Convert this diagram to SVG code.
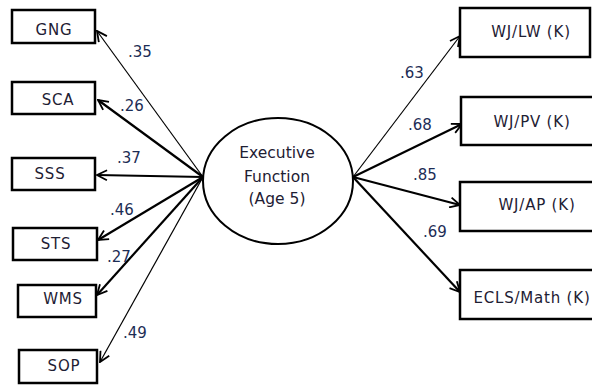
<svg xmlns="http://www.w3.org/2000/svg" width="592" height="385" viewBox="0 0 592 385">
<style>
.box{fill:#fff;stroke:#000;stroke-width:2.5}
.lbl{font-family:"DejaVu Sans",Verdana,sans-serif;font-size:15px;fill:#1e2033;text-anchor:middle;letter-spacing:0.8px}
.ctr{font-family:"DejaVu Sans",Verdana,sans-serif;font-size:15.5px;fill:#1e2033;text-anchor:middle}
.coef{font-family:"DejaVu Sans",Verdana,sans-serif;font-size:15px;fill:#1d2d55}
.thin{stroke:#000;stroke-width:1.2;fill:none;marker-end:url(#a)}
.thick{stroke:#000;stroke-width:2.2;fill:none;marker-end:url(#a)}
</style>
<defs>
<marker id="a" viewBox="0 0 12 12" refX="11" refY="6" markerWidth="12" markerHeight="12" markerUnits="userSpaceOnUse" orient="auto">
<path d="M1,1 L11,6 L1,11" fill="none" stroke="#000" stroke-width="1.8"/>
</marker>
</defs>
<rect width="592" height="385" fill="#fff"/>
<g id="connectors">
<line class="thin" x1="203" y1="177" x2="97" y2="31"/>
<line class="thick" x1="203" y1="177" x2="98" y2="100"/>
<line class="thick" x1="203" y1="177" x2="97" y2="175"/>
<line class="thick" x1="203" y1="177" x2="98" y2="240"/>
<line class="thick" x1="203" y1="177" x2="97" y2="295"/>
<line class="thin" x1="203" y1="177" x2="100" y2="362"/>
<line class="thin" x1="353" y1="177" x2="460" y2="36"/>
<line class="thick" x1="353" y1="177" x2="462" y2="124"/>
<line class="thick" x1="353" y1="177" x2="460" y2="205"/>
<line class="thick" x1="353" y1="177" x2="460" y2="292"/>
<text class="coef" x="128" y="57">.35</text>
<text class="coef" x="120" y="111">.26</text>
<text class="coef" x="117" y="163">.37</text>
<text class="coef" x="110" y="215">.46</text>
<text class="coef" x="107" y="262">.27</text>
<text class="coef" x="123" y="338">.49</text>
<text class="coef" x="400" y="78">.63</text>
<text class="coef" x="408" y="130">.68</text>
<text class="coef" x="413" y="180">.85</text>
<text class="coef" x="423" y="237">.69</text>
</g>
<g id="ef">
<ellipse cx="278" cy="181" rx="75" ry="63" fill="#fff" stroke="#000" stroke-width="2"/>
<text class="ctr" x="277" y="158">Executive</text>
<text class="ctr" x="277" y="182">Function</text>
<text class="ctr" x="277" y="204">(Age 5)</text>
</g>
<g id="gng"><rect class="box" x="12" y="10" width="83" height="33"/><text class="lbl" x="54" y="35">GNG</text></g>
<g id="sca"><rect class="box" x="12" y="82" width="83" height="32"/><text class="lbl" x="58" y="105">SCA</text></g>
<g id="sss"><rect class="box" x="12" y="158" width="83" height="32"/><text class="lbl" x="50" y="179">SSS</text></g>
<g id="sts"><rect class="box" x="13" y="228" width="84" height="32"/><text class="lbl" x="56" y="249">STS</text></g>
<g id="wms"><rect class="box" x="18" y="285" width="78" height="32"/><text class="lbl" x="63" y="304">WMS</text></g>
<g id="sop"><rect class="box" x="19" y="350" width="78" height="33"/><text class="lbl" x="64" y="371">SOP</text></g>
<g id="wjlw"><rect class="box" x="460" y="8" width="130" height="49"/><text class="lbl" x="531" y="37">WJ/LW (K)</text></g>
<g id="wjpv"><rect class="box" x="461" y="97" width="140" height="48"/><text class="lbl" x="532" y="127">WJ/PV (K)</text></g>
<g id="wjap"><rect class="box" x="460" y="182" width="140" height="49"/><text class="lbl" x="537" y="210">WJ/AP (K)</text></g>
<g id="ecls"><rect class="box" x="460" y="270" width="140" height="49"/><text class="lbl" x="532" y="303">ECLS/Math (K)</text></g>
</svg>
